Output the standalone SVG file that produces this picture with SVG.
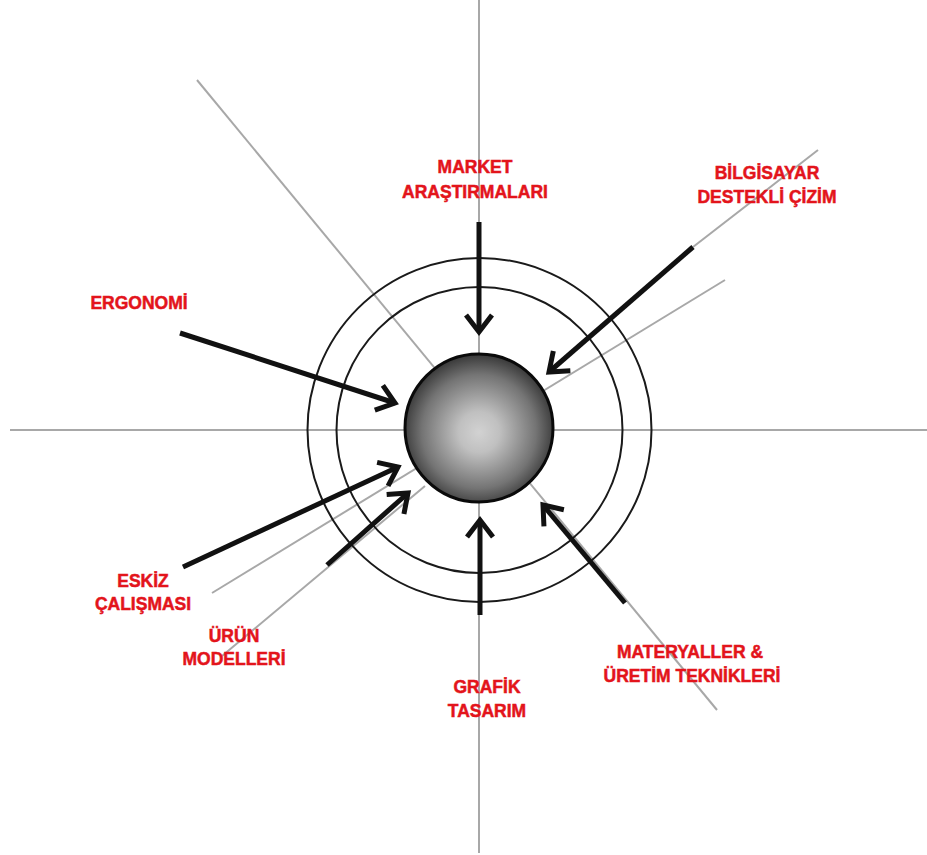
<svg xmlns="http://www.w3.org/2000/svg" width="927" height="855" viewBox="0 0 927 855">
  <style>
    .guide { stroke: #a8a8a8; stroke-width: 2; fill: none; }
    .ring { stroke: #1a1a1a; stroke-width: 2; fill: none; }
    .arrow { stroke: #111; stroke-width: 5; fill: none; marker-end: url(#chev); }
    .lbl { font-family: "Liberation Sans", Arial, sans-serif; font-weight: bold; font-size: 17.5px; fill: #e3141b; stroke: #e3141b; stroke-width: 0.5; text-anchor: middle; }
  </style>
  <defs>
    <marker id="chev" markerUnits="userSpaceOnUse" viewBox="-22 -18 26 36" markerWidth="26" markerHeight="36" refX="0" refY="0" orient="auto" overflow="visible">
      <path d="M-17,-13 L0,0 L-17,13" fill="none" stroke="#111" stroke-width="5" stroke-linejoin="miter" stroke-linecap="butt"/>
    </marker>
    <radialGradient id="sph" cx="0.5" cy="0.52" r="0.55" fx="0.5" fy="0.53">
      <stop offset="0" stop-color="#d2d2d2"/>
      <stop offset="0.25" stop-color="#c0c0c0"/>
      <stop offset="0.7" stop-color="#747474"/>
      <stop offset="1" stop-color="#2a2a2a"/>
    </radialGradient>
  </defs>

  <g id="guides">
    <line class="guide" x1="10" y1="430" x2="927" y2="430"/>
    <line class="guide" x1="479" y1="0" x2="479" y2="853"/>
    <line class="guide" x1="197" y1="80" x2="717" y2="710"/>
    <line class="guide" x1="212" y1="593" x2="725" y2="280"/>
    <line class="guide" x1="222" y1="656" x2="425" y2="486"/>
    <line class="guide" x1="693" y1="247" x2="818" y2="150"/>
  </g>

  <g id="rings">
    <circle class="ring" cx="479.5" cy="430" r="172"/>
    <circle class="ring" cx="479.5" cy="430" r="143"/>
  </g>

  <g id="core">
    <circle cx="479" cy="428" r="74" fill="url(#sph)" stroke="#0a0a0a" stroke-width="3"/>
  </g>

  <g id="connectors">
    <line class="arrow" x1="479" y1="222" x2="479" y2="332"/>
    <line class="arrow" x1="180" y1="333" x2="395" y2="403"/>
    <line class="arrow" x1="693" y1="247" x2="549" y2="372"/>
    <line class="arrow" x1="183" y1="567" x2="398" y2="467"/>
    <line class="arrow" x1="327" y1="565" x2="408" y2="493"/>
    <line class="arrow" x1="480" y1="615" x2="480" y2="520"/>
    <line class="arrow" x1="625" y1="603" x2="543" y2="505"/>
  </g>

  <g id="market">
    <text class="lbl" x="475" y="173">MARKET</text>
    <text class="lbl" x="475" y="198">ARAŞTIRMALARI</text>
  </g>
  <g id="bilgisayar">
    <text class="lbl" x="767" y="179">BİLGİSAYAR</text>
    <text class="lbl" x="767" y="203">DESTEKLİ ÇİZİM</text>
  </g>
  <g id="ergonomi">
    <text class="lbl" x="139" y="309">ERGONOMİ</text>
  </g>
  <g id="eskiz">
    <text class="lbl" x="143" y="587">ESKİZ</text>
    <text class="lbl" x="143" y="610">ÇALIŞMASI</text>
  </g>
  <g id="urun">
    <text class="lbl" x="234" y="642">ÜRÜN</text>
    <text class="lbl" x="234" y="665">MODELLERİ</text>
  </g>
  <g id="grafik">
    <text class="lbl" x="487" y="693">GRAFİK</text>
    <text class="lbl" x="487" y="717">TASARIM</text>
  </g>
  <g id="materyaller">
    <text class="lbl" x="690" y="658">MATERYALLER &amp;</text>
    <text class="lbl" x="692" y="682">ÜRETİM TEKNİKLERİ</text>
  </g>
</svg>
